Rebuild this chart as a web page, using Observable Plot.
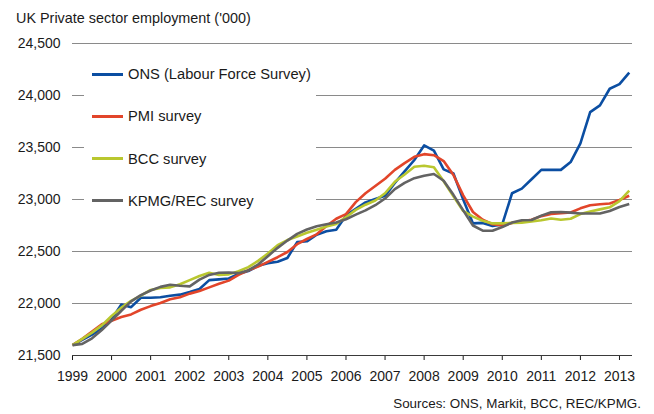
<!DOCTYPE html>
<html><head><meta charset="utf-8">
<script src="https://cdn.jsdelivr.net/npm/d3@7"></script>
<script src="https://cdn.jsdelivr.net/npm/@observablehq/plot@0.6"></script>
<style>
body{margin:0;background:#fff;font-family:"Liberation Sans",Arial,sans-serif;color:#1a1a1a}
#wrap{position:relative;width:654px;height:414px;overflow:hidden;background:#fff}
#title{position:absolute;left:16px;top:11px;font-size:14.4px;line-height:14.4px;white-space:nowrap}
#chart{position:absolute;left:0;top:30px}
#legend{position:absolute;left:84px;top:56px;width:232px;height:164px;background:#fff}
.item{position:absolute;left:8px;height:20px;display:flex;align-items:center}
.sw{width:31px;height:3px;margin-right:5px}
.lab{font-size:14.7px;white-space:nowrap}
#source{position:absolute;right:13px;top:397px;font-size:13.4px;line-height:13.4px;white-space:nowrap}
</style>
</head><body>
<div id="wrap">
  <div id="title">UK Private sector employment ('000)</div>
  <div id="chart"></div>
  <div id="legend"></div>
  <div id="source">Sources: ONS, Markit, BCC, REC/KPMG.</div>
</div>
<script>
// Series names and colours
const seriesNames = ["ONS (Labour Force Survey)", "PMI survey", "BCC survey", "KPMG/REC survey"];
const seriesColors = ["#0b4ea2", "#e2452a", "#b9c72f", "#636363"];

// Quarterly periods 1999 Q1 .. 2013 Q2 (as fractional years)
const quarters = [];
for (let y = 1999; y <= 2013; y++) for (let q = 0; q < 4; q++) if (y < 2013 || q < 2) quarters.push(y + q / 4);

// Tick labels
const xTicks = [1999,2000,2001,2002,2003,2004,2005,2006,2007,2008,2009,2010,2011,2012,2013];
const yTicks = [21500,22000,22500,23000,23500,24000,24500];

// Values ('000)
const ons = [21600,21650,21700,21760,21850,21990,21965,22055,22055,22060,22075,22085,
  22110,22140,22225,22232,22240,22285,22312,22362,22388,22402,22438,22590,
  22598,22662,22695,22710,22845,22910,22972,23005,23035,23160,23270,23380,
  23520,23470,23290,23250,23000,22770,22775,22745,22760,23060,23105,23195,
  23285,23285,23285,23360,23540,23840,23905,24065,24110,24220];
const pmi = [21600,21660,21730,21800,21835,21870,21895,21940,21975,22005,22040,22060,
  22095,22120,22155,22190,22220,22275,22320,22355,22400,22445,22495,22570,
  22620,22665,22745,22815,22860,22975,23060,23130,23200,23285,23350,23410,
  23436,23426,23370,23235,23040,22880,22805,22762,22750,22775,22790,22805,
  22840,22860,22868,22875,22915,22945,22955,22962,22995,23036];
const bcc = [21600,21660,21720,21790,21880,21960,22025,22075,22130,22150,22155,22185,
  22225,22265,22295,22275,22280,22310,22350,22410,22480,22560,22610,22645,
  22680,22710,22740,22765,22830,22900,22950,22990,23060,23170,23240,23315,
  23325,23310,23175,23030,22890,22835,22795,22770,22770,22775,22778,22788,
  22800,22818,22805,22815,22860,22885,22905,22925,22985,23085];
const kpmg = [21600,21612,21665,21745,21835,21930,22020,22080,22125,22160,22180,22170,
  22165,22230,22275,22295,22298,22292,22318,22375,22455,22535,22605,22670,
  22712,22742,22762,22778,22810,22855,22895,22945,23010,23100,23160,23205,
  23228,23245,23180,23045,22895,22750,22700,22700,22735,22778,22800,22803,
  22845,22878,22880,22874,22866,22866,22866,22890,22928,22957];

const seriesValues = [ons, pmi, bcc, kpmg];
const data = [];
seriesValues.forEach((vals, s) => vals.forEach((v, i) => data.push({series: seriesNames[s], t: quarters[i], v})));

const chart = Plot.plot({
  width: 654, height: 360,
  marginLeft: 72, marginRight: 22, marginTop: 13, marginBottom: 35,
  style: {fontFamily: '"Liberation Sans", Arial, sans-serif', fontSize: "14px", color: "#1a1a1a", background: "transparent", overflow: "visible"},
  x: {domain: [1999, 2013 + 1/3], ticks: xTicks, tickFormat: d => String(d), tickSize: 5, tickPadding: 11, label: null},
  y: {domain: [21500, 24500], ticks: yTicks, tickFormat: d3.format(","), tickSize: 0, tickPadding: 12, label: null},
  color: {domain: seriesNames, range: seriesColors},
  marks: [
    Plot.ruleY(yTicks.filter(d => d > 21500), {stroke: "#8a8a8a", strokeWidth: 1, shapeRendering: "crispEdges"}),
    Plot.line(data, {x: "t", y: "v", z: "series", stroke: "series", strokeWidth: 2.6, strokeLinejoin: "round", strokeLinecap: "butt"}),
    Plot.ruleY([21500], {stroke: "#3a3a3a", strokeWidth: 1, shapeRendering: "crispEdges"})
  ]
});
document.getElementById("chart").appendChild(chart);

// Legend
const leg = document.getElementById("legend");
const rowCenters = [18, 60, 102.5, 144.7];
seriesNames.forEach((n, i) => {
  const it = document.createElement("div");
  it.className = "item";
  it.style.top = (rowCenters[i] - 10) + "px";
  it.innerHTML = `<span class="sw" style="background:${seriesColors[i]}"></span><span class="lab">${n}</span>`;
  leg.appendChild(it);
});
</script>
</body></html>
